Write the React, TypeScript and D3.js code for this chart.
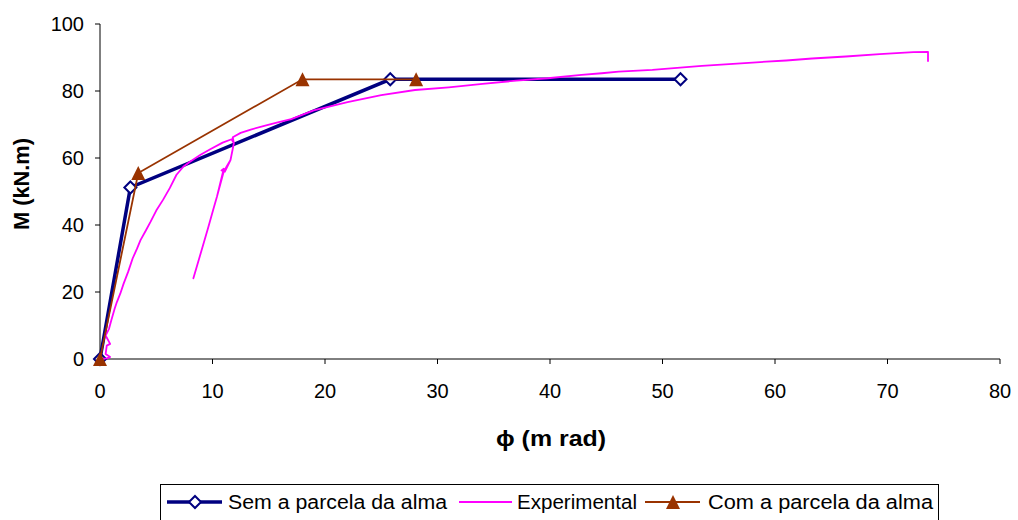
import React from 'react';
import * as d3 from 'd3';

// series
const semPhi = [0, 2.7, 25.8, 51.6];
const semM = [0, 51.2, 83.5, 83.5];

const comPhi = [0, 3.4, 18.0, 28.1];
const comM = [0, 55.5, 83.5, 83.5];

// loading, unloading to ~24 kN.m, reloading, then on to failure
const expPhi = [
  0, 0.6, 0.9, 0.5, 0.6, 0.9, 0.5, 0.8, 1.0, 1.3, 1.5, 1.8, 2.1, 2.5, 2.9, 3.3, 3.6, 4.1, 4.5, 5.0,
  5.6, 6.2, 6.8, 7.4, 8.0, 8.9, 9.8, 10.9, 11.7,
  11.9, 11.6, 11.1, 10.8, 11.0, 10.4, 10.1, 9.6, 8.9, 8.3,
  8.9, 9.6, 10.1, 10.4, 11.0, 11.6, 11.9, 11.8, 12.5, 13.4, 14.6, 15.8, 17.0, 19.0, 22.0, 25.0,
  28.0, 31.0, 34.0, 37.0, 39.8, 42.8, 44.6, 46.1, 49.1, 53.5, 58.0, 61.0, 63.3, 66.3, 69.3, 72.3,
  73.6, 73.6,
];
const expM = [
  0, 0.2, 0.6, 1.5, 4, 4.5, 7, 9, 11.5, 15, 17, 19.5, 22.5, 26, 30, 33, 35.5, 38.5, 41, 44.3,
  47.5, 51, 55, 57.4, 58.9, 60.9, 62.6, 64.6, 65.6,
  64.4, 59.4, 55.9, 56.3, 56.8, 48.5, 45, 39, 31, 24.1,
  31, 39, 45, 48.5, 56, 59.4, 64.4, 66.2, 67.5, 68.5, 69.6, 70.6, 71.6, 74.2, 76.7, 78.8,
  80.3, 81.1, 82.1, 83.1, 83.8, 84.8, 85.3, 85.8, 86.3, 87.5, 88.5, 89.1, 89.7, 90.3, 91.0, 91.6,
  91.7, 88.7,
];

const xTicks = [0, 10, 20, 30, 40, 50, 60, 70, 80];
const yTicks = [0, 20, 40, 60, 80, 100];

const NAVY = '#000080';
const MAGENTA = '#FF00FF';
const BROWN = '#993300';
const FONT = '"Liberation Sans", Arial, sans-serif';

const x = d3.scaleLinear().domain([0, 80]).range([100, 1000]);
const y = d3.scaleLinear().domain([0, 100]).range([359, 24]);

const zip = (a: number[], b: number[]) => a.map((v, i) => [v, b[i]] as [number, number]);

const line = d3
  .line<[number, number]>()
  .x(d => x(d[0]))
  .y(d => y(d[1]));

const diamond = 'M0,-6L6,0L0,6L-6,0Z';
const triangle = 'M0,-7L7,7L-7,7Z';

const App: React.FC = () => {
  const sem = zip(semPhi, semM);
  const com = zip(comPhi, comM);
  const exp = zip(expPhi, expM);

  return (
    <svg
      width={1018}
      height={520}
      style={{ position: 'absolute', left: 0, top: 0, background: '#fff' }}
      fontFamily={FONT}
    >
      {/* axes */}
      <line x1={100} x2={100} y1={y(100)} y2={y(0)} stroke="#000" strokeWidth={1} />
      <line x1={x(0)} x2={x(80)} y1={y(0)} y2={y(0)} stroke="#000" strokeWidth={1} />
      {yTicks.map(t => (
        <g key={'y' + t}>
          <line x1={95} x2={100} y1={y(t)} y2={y(t)} stroke="#000" />
          <text x={84} y={y(t)} dy="0.36em" textAnchor="end" fontSize={20}>
            {t}
          </text>
        </g>
      ))}
      {xTicks.map(t => (
        <g key={'x' + t}>
          <line x1={x(t)} x2={x(t)} y1={y(0)} y2={y(0) + 5} stroke="#000" />
          <text x={x(t)} y={398} textAnchor="middle" fontSize={20}>
            {t}
          </text>
        </g>
      ))}
      <text
        transform="translate(29,184) rotate(-90)"
        textAnchor="middle"
        fontSize={22}
        fontWeight="bold"
        textLength={92}
        lengthAdjust="spacingAndGlyphs"
      >
        M (kN.m)
      </text>
      <text
        x={496}
        y={446}
        fontSize={22}
        fontWeight="bold"
        textLength={110}
        lengthAdjust="spacingAndGlyphs"
      >
        ϕ (m rad)
      </text>

      {/* series */}
      <path d={line(sem) as string} fill="none" stroke={NAVY} strokeWidth={3.5} />
      {sem.map((d, i) => (
        <path
          key={'s' + i}
          d={diamond}
          transform={`translate(${x(d[0])},${y(d[1])})`}
          fill="#fff"
          stroke={NAVY}
          strokeWidth={2}
        />
      ))}
      <path d={line(exp) as string} fill="none" stroke={MAGENTA} strokeWidth={1.8} strokeLinejoin="round" />
      <path d={line(com) as string} fill="none" stroke={BROWN} strokeWidth={1.8} />
      {com.map((d, i) => (
        <path key={'c' + i} d={triangle} transform={`translate(${x(d[0])},${y(d[1])})`} fill={BROWN} />
      ))}

      {/* legend */}
      <rect x={160.5} y={484.5} width={778} height={40} fill="#fff" stroke="#000" />
      <line x1={167} x2={222} y1={502} y2={502} stroke={NAVY} strokeWidth={3.5} />
      <path d={diamond} transform="translate(195,502)" fill="#fff" stroke={NAVY} strokeWidth={2} />
      <text x={228} y={509} fontSize={20} textLength={219} lengthAdjust="spacingAndGlyphs">
        Sem a parcela da alma
      </text>
      <line x1={459} x2={512} y1={502} y2={502} stroke={MAGENTA} strokeWidth={1.8} />
      <text x={517} y={509} fontSize={20} textLength={120} lengthAdjust="spacingAndGlyphs">
        Experimental
      </text>
      <line x1={645} x2={700} y1={502} y2={502} stroke={BROWN} strokeWidth={1.8} />
      <path d={triangle} transform="translate(673,502)" fill={BROWN} />
      <text x={708} y={509} fontSize={20} textLength={225} lengthAdjust="spacingAndGlyphs">
        Com a parcela da alma
      </text>
    </svg>
  );
};

export default App;
